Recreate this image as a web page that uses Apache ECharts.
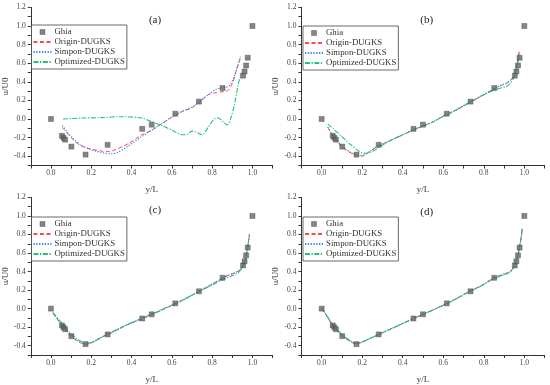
<!DOCTYPE html>
<html><head><meta charset="utf-8">
<script src="https://cdn.jsdelivr.net/npm/echarts@6/dist/echarts.min.js"></script>
<style>html,body{margin:0;padding:0;background:#fff}#c{width:550px;height:385px}</style>
</head><body><div id="c"></div>
<script>
// Ghia benchmark (same in all panels)
var ghiaY = [0.0000,0.0547,0.0625,0.0703,0.1016,0.1719,0.2813,0.4531,0.5000,0.6172,0.7344,0.8516,0.9531,0.9609,0.9688,0.9766,1.0000];
var ghiaU = [0.0,-0.181,-0.202,-0.222,-0.297,-0.383,-0.278,-0.106,-0.061,0.057,0.187,0.333,0.466,0.511,0.575,0.659,1.0];

// Panel (a)
var aOrigX = [0.057,0.10,0.15,0.20,0.25,0.29,0.33,0.37,0.41,0.45,0.50,0.55,0.60,0.65,0.70,0.735,0.78,0.82,0.86,0.88,0.90,0.92,0.94];
var aOrigU = [-0.09,-0.20,-0.29,-0.325,-0.345,-0.35,-0.32,-0.28,-0.23,-0.17,-0.12,-0.05,0.02,0.08,0.12,0.18,0.26,0.285,0.295,0.31,0.38,0.52,0.65];
var aSimpX = [0.057,0.10,0.15,0.20,0.25,0.30,0.33,0.37,0.41,0.45,0.50,0.55,0.60,0.65,0.70,0.735,0.78,0.82,0.85,0.87,0.89,0.91,0.94];
var aSimpU = [-0.07,-0.19,-0.28,-0.33,-0.36,-0.375,-0.36,-0.31,-0.25,-0.19,-0.12,-0.05,0.02,0.08,0.13,0.18,0.26,0.32,0.335,0.34,0.37,0.46,0.67];
var aOptX = [0.06,0.15,0.25,0.35,0.45,0.50,0.55,0.60,0.64,0.67,0.70,0.72,0.75,0.78,0.81,0.83,0.85,0.875,0.89,0.91,0.93,0.94];
var aOptU = [0.0,0.01,0.015,0.025,0.01,-0.03,-0.07,-0.12,-0.165,-0.17,-0.13,-0.14,-0.17,-0.09,0.0,0.01,-0.02,-0.065,-0.01,0.15,0.38,0.45];

// Panel (b)
var bOrigX = [0.03,0.06,0.10,0.14,0.17,0.20,0.23,0.27,0.30,0.35,0.40,0.45,0.50,0.55,0.60,0.65,0.70,0.75,0.80,0.85,0.88,0.91,0.93,0.95,0.96,0.97,0.975];
var bOrigU = [-0.09,-0.20,-0.30,-0.36,-0.39,-0.40,-0.36,-0.30,-0.27,-0.22,-0.17,-0.12,-0.075,-0.03,0.03,0.08,0.14,0.20,0.26,0.32,0.355,0.38,0.41,0.47,0.55,0.66,0.74];
var bSimpX = [0.03,0.06,0.10,0.14,0.17,0.20,0.23,0.27,0.30,0.35,0.40,0.45,0.50,0.55,0.60,0.65,0.70,0.75,0.80,0.85,0.88,0.91,0.93,0.95,0.96,0.97,0.975];
var bSimpU = [-0.085,-0.19,-0.29,-0.355,-0.385,-0.39,-0.36,-0.30,-0.27,-0.22,-0.17,-0.12,-0.075,-0.03,0.03,0.085,0.145,0.205,0.265,0.325,0.36,0.385,0.415,0.47,0.54,0.64,0.72];
var bOptX = [0.03,0.06,0.10,0.14,0.18,0.21,0.25,0.30,0.35,0.40,0.45,0.50,0.55,0.60,0.65,0.70,0.75,0.80,0.85,0.88,0.91,0.93,0.95,0.96,0.97,0.975];
var bOptU = [-0.055,-0.11,-0.19,-0.27,-0.34,-0.37,-0.35,-0.28,-0.22,-0.17,-0.12,-0.075,-0.03,0.03,0.08,0.14,0.20,0.26,0.31,0.33,0.35,0.38,0.45,0.52,0.62,0.69];

// Panel (c)
var cOrigX = [0.01,0.04,0.06,0.10,0.14,0.17,0.20,0.25,0.30,0.35,0.40,0.45,0.50,0.55,0.60,0.65,0.70,0.75,0.80,0.85,0.88,0.91,0.94,0.955,0.965,0.975,0.985];
var cOrigU = [-0.05,-0.14,-0.20,-0.30,-0.36,-0.385,-0.37,-0.31,-0.26,-0.205,-0.155,-0.11,-0.065,-0.015,0.035,0.085,0.145,0.205,0.265,0.33,0.36,0.385,0.42,0.47,0.53,0.64,0.81];
var cSimpX = [0.01,0.04,0.06,0.10,0.14,0.17,0.20,0.25,0.30,0.35,0.40,0.45,0.50,0.55,0.60,0.65,0.70,0.75,0.80,0.85,0.88,0.91,0.94,0.955,0.965,0.975,0.985];
var cSimpU = [-0.05,-0.13,-0.19,-0.29,-0.355,-0.38,-0.365,-0.31,-0.26,-0.205,-0.155,-0.11,-0.065,-0.015,0.035,0.085,0.145,0.205,0.265,0.325,0.36,0.385,0.42,0.47,0.53,0.63,0.80];
var cOptX = [0.01,0.04,0.07,0.10,0.14,0.18,0.21,0.25,0.30,0.35,0.40,0.45,0.50,0.55,0.60,0.65,0.70,0.75,0.80,0.85,0.90,0.93,0.95,0.97,0.985];
var cOptU = [-0.04,-0.12,-0.20,-0.27,-0.34,-0.375,-0.36,-0.31,-0.255,-0.2,-0.15,-0.105,-0.06,-0.01,0.04,0.09,0.145,0.2,0.255,0.31,0.355,0.39,0.45,0.6,0.79];

// Panel (d)
var dOrigX = [0.0,0.02,0.05,0.07,0.10,0.13,0.17,0.20,0.25,0.28,0.35,0.45,0.50,0.62,0.73,0.80,0.85,0.90,0.93,0.95,0.965,0.975,0.985,0.99];
var dOrigU = [0.0,-0.06,-0.17,-0.22,-0.29,-0.34,-0.38,-0.36,-0.31,-0.28,-0.21,-0.11,-0.062,0.057,0.185,0.265,0.335,0.37,0.40,0.46,0.55,0.65,0.78,0.87];
var dSimpX = [0.0,0.02,0.05,0.07,0.10,0.13,0.17,0.20,0.25,0.28,0.35,0.45,0.50,0.62,0.73,0.80,0.85,0.90,0.93,0.95,0.965,0.975,0.985,0.99];
var dSimpU = [0.0,-0.06,-0.165,-0.215,-0.285,-0.335,-0.375,-0.36,-0.31,-0.28,-0.21,-0.11,-0.062,0.057,0.185,0.26,0.33,0.375,0.40,0.46,0.55,0.65,0.78,0.87];
var dOptX = [0.0,0.02,0.05,0.07,0.10,0.13,0.17,0.20,0.25,0.28,0.35,0.45,0.50,0.62,0.73,0.80,0.85,0.90,0.93,0.95,0.965,0.975,0.985,0.99];
var dOptU = [0.0,-0.055,-0.16,-0.21,-0.28,-0.33,-0.372,-0.36,-0.31,-0.28,-0.21,-0.11,-0.062,0.057,0.185,0.26,0.325,0.365,0.395,0.455,0.545,0.645,0.775,0.87];

var xTickLabels = ['0.0','0.2','0.4','0.6','0.8','1.0'];
var yTickLabels = ['-0.4','-0.2','0.0','0.2','0.4','0.6','0.8','1.0','1.2'];
var panelTitles = ['(a)','(b)','(c)','(d)'];
var seriesNames = ['Ghia','Origin-DUGKS','Simpon-DUGKS','Optimized-DUGKS'];

var panels = [
  [aOrigX,aOrigU,aSimpX,aSimpU,aOptX,aOptU],
  [bOrigX,bOrigU,bSimpX,bSimpU,bOptX,bOptU],
  [cOrigX,cOrigU,cSimpX,cSimpU,cOptX,cOptU],
  [dOrigX,dOrigU,dSimpX,dSimpU,dOptX,dOptU]
];

function zip(a,b){return a.map(function(v,i){return [v,b[i]];});}
var FONT = '"Liberation Serif", "Times New Roman", serif';
var grids = [
  {left:29, top:7.4, width:243.6, height:158.1},
  {left:301.4, top:7.4, width:243.2, height:158.1},
  {left:29, top:197.4, width:243.6, height:158.1},
  {left:301.4, top:197.4, width:243.2, height:158.1}
];
var legendPos = [[31.5,25],[303,26],[31.5,217],[303,217]];
var titlePos = [[150,10],[421.7,10],[150,200],[421.7,201.5]];
var colors = {red:'#ff4a4a', blue:'#3b7bff', green:'#1fc47c', ghia:'#666666'};
var squareIcon = 'path://M0,0H10V10H0Z';

var xAxes=[], yAxes=[], series=[], legends=[], titles=[];
for (var p=0;p<4;p++){
  xAxes.push({gridIndex:p,type:'value',min:-0.1,max:1.1,interval:0.1,
    name:'y/L',nameLocation:'middle',nameGap:20,
    nameTextStyle:{fontFamily:FONT,fontSize:9,color:'#333'},
    axisLine:{onZero:false,lineStyle:{color:'#333',width:1}},
    axisTick:{show:true,length:3,inside:false,lineStyle:{color:'#333'}},
    axisLabel:{fontFamily:FONT,fontSize:7.5,color:'#444',margin:4,
      formatter:function(v){var s=(Math.abs(v)<1e-9?0:v).toFixed(1);return xTickLabels.indexOf(s)>=0?s:'';}},
    splitLine:{show:false}});
  yAxes.push({gridIndex:p,type:'value',min:-0.5,max:1.2,interval:0.1,
    name:'u/U0',nameLocation:'middle',nameGap:19,
    nameTextStyle:{fontFamily:FONT,fontSize:9,color:'#333'},
    axisLine:{show:true,onZero:false,lineStyle:{color:'#333',width:1}},
    axisTick:{show:true,length:3,inside:false,lineStyle:{color:'#333'}},
    axisLabel:{fontFamily:FONT,fontSize:7.5,color:'#444',margin:5,
      formatter:function(v){var s=(Math.abs(v)<1e-9?0:v).toFixed(1);return yTickLabels.indexOf(s)>=0?s:'';}},
    splitLine:{show:false}});
  var d = panels[p];
  series.push({name:seriesNames[0],type:'scatter',xAxisIndex:p,yAxisIndex:p,symbol:'rect',symbolSize:5,
    itemStyle:{color:colors.ghia,borderColor:'#444',borderWidth:0.5},data:zip(ghiaY,ghiaU),z:5});
  series.push({name:seriesNames[1],type:'line',xAxisIndex:p,yAxisIndex:p,showSymbol:false,symbol:'none',smooth:0.3,
    lineStyle:{color:colors.red,width:1,type:[4,2.5]},itemStyle:{color:colors.red},data:zip(d[0],d[1])});
  series.push({name:seriesNames[2],type:'line',xAxisIndex:p,yAxisIndex:p,showSymbol:false,symbol:'none',smooth:0.3,
    lineStyle:{color:colors.blue,width:1.1,type:[1.3,1.5]},itemStyle:{color:colors.blue},data:zip(d[2],d[3])});
  series.push({name:seriesNames[3],type:'line',xAxisIndex:p,yAxisIndex:p,showSymbol:false,symbol:'none',smooth:0.3,
    lineStyle:{color:colors.green,width:1.1,type:[5,1.5,1.3,1.5]},itemStyle:{color:colors.green},data:zip(d[4],d[5])});
  legends.push({orient:'vertical',left:legendPos[p][0],top:legendPos[p][1],
    borderColor:'#444',borderWidth:0.8,padding:[2,2,2,1],itemGap:0,itemWidth:18,itemHeight:5,
    backgroundColor:'#fff',symbolKeepAspect:true,
    textStyle:{fontFamily:FONT,fontSize:8.8,color:'#333',lineHeight:10,padding:[0,0,0,-2]},
    data:[
      {name:seriesNames[0],icon:squareIcon,itemStyle:{color:colors.ghia,borderColor:'#444',borderWidth:0.5}},
      {name:seriesNames[1],itemStyle:{opacity:0,borderWidth:0}},
      {name:seriesNames[2],itemStyle:{opacity:0,borderWidth:0}},
      {name:seriesNames[3],itemStyle:{opacity:0,borderWidth:0}}
    ]});
  titles.push({text:panelTitles[p],left:titlePos[p][0],top:titlePos[p][1],textAlign:'center',
    textStyle:{fontFamily:FONT,fontSize:11,fontWeight:'normal',color:'#222'}});
}

var chart = echarts.init(document.getElementById('c'),null,{renderer:'canvas'});
chart.setOption({
  animation:false,
  backgroundColor:'#fff',
  title:titles,
  grid:grids,
  xAxis:xAxes,
  yAxis:yAxes,
  legend:legends,
  series:series
});
</script>
</body></html>
